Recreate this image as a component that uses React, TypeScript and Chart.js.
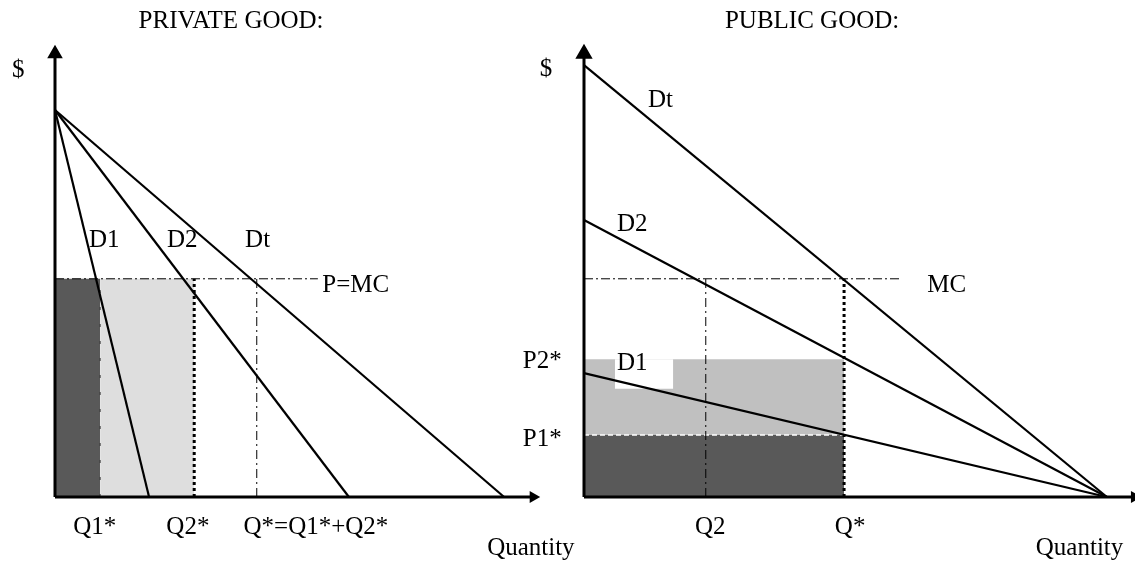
import React, { useEffect, useRef } from "react";
import { Chart, registerables } from "chart.js";

Chart.register(...registerables);

// ---------- PRIVATE GOOD (left panel) ----------
const privateTitle = "PRIVATE GOOD:";
const privateCurveNames = ["D1", "D2", "Dt"];
const privateChokePrice = 86.2; // common price intercept of D1, D2, Dt
const privateQtyIntercepts = [19.4, 60.6, 92.6]; // D1, D2, Dt on quantity axis
const privatePrice = 48.6; // P = MC
const privateMcEnd = 54.2;
const privateQuantities = [9.3, 28.7, 41.6]; // Q1*, Q2*, Q*
const privateQtyLabels = ["Q1*", "Q2*", "Q*=Q1*+Q2*"];
const privateMcLabel = "P=MC";

// ---------- PUBLIC GOOD (right panel) ----------
const publicTitle = "PUBLIC GOOD:";
const publicCurveNames = ["D1", "D2", "Dt"];
const publicPriceIntercepts = [27.6, 61.7, 96.2]; // D1, D2, Dt
const publicQtyIntercept = 94.9;
const publicMc = 48.6;
const publicMcEnd = 57.5;
const publicQuantities = [22.1, 47.2]; // Q2, Q*
const publicQtyLabels = ["Q2", "Q*"];
const publicPrices = [30.7, 13.8]; // P2*, P1*
const publicPriceLabels = ["P2*", "P1*"];
const publicMcLabel = "MC";

const axisLabels = ["$", "Quantity"];

const FONT = '25px "Liberation Serif", "Times New Roman", serif';
const DARK = "#595959";

type Pt = { x: number; y: number };
type TextItem = {
  text: string;
  x: number;
  y: number;
  align: CanvasTextAlign;
};

function makeTextPlugin(id: string, items: TextItem[]) {
  return {
    id,
    afterDraw(chart: any) {
      const { ctx, scales } = chart;
      const xs = scales.x;
      const ys = scales.y;
      ctx.save();
      ctx.font = FONT;
      ctx.fillStyle = "#000";
      ctx.textBaseline = "middle";
      for (const it of items) {
        ctx.textAlign = it.align;
        ctx.fillText(it.text, xs.getPixelForValue(it.x), ys.getPixelForValue(it.y));
      }
      ctx.restore();
    },
  };
}

function seg(data: Pt[], opts: any = {}) {
  return {
    data,
    borderColor: "#000",
    borderWidth: 1,
    pointRadius: 0,
    fill: false,
    clip: false,
    order: 5,
    ...opts,
  };
}

function rectFill(x0: number, x1: number, top: number, color: string, order: number, bottom?: number) {
  return seg(
    [
      { x: x0, y: top },
      { x: x1, y: top },
    ],
    {
      borderWidth: 0,
      borderColor: "rgba(0,0,0,0)",
      backgroundColor: color,
      fill: bottom === undefined ? "origin" : { value: bottom },
      order,
    }
  );
}

function axisSet(xEnd: number, arrowX: number, yEnd: number, rX: number, rY: number) {
  return [
    seg(
      [
        { x: 0, y: 0 },
        { x: 0, y: yEnd },
      ],
      {
        borderWidth: 3,
        pointRadius: [0, rY],
        pointStyle: "triangle",
        pointRotation: 0,
        pointBackgroundColor: "#000",
        pointBorderColor: "#000",
        order: 0,
      }
    ),
    seg(
      [
        { x: 0, y: 0 },
        { x: xEnd, y: 0 },
      ],
      { borderWidth: 3, order: 0 }
    ),
    seg([{ x: arrowX, y: 0 }], {
      borderWidth: 0,
      pointRadius: rX,
      pointStyle: "triangle",
      pointRotation: 90,
      pointBackgroundColor: "#000",
      pointBorderColor: "#000",
      order: 0,
    }),
  ];
}

function baseOptions(padding: any) {
  return {
    responsive: false,
    animation: false as const,
    events: [] as any[],
    layout: { padding, autoPadding: false },
    plugins: {
      legend: { display: false },
      tooltip: { enabled: false },
      title: { display: false },
    },
    scales: {
      x: { type: "linear" as const, min: 0, max: 100, display: false },
      y: { type: "linear" as const, min: 0, max: 100, display: false },
    },
  };
}

function privateConfig(): any {
  const [q1, q2, qt] = privateQuantities;
  const demand = privateQtyIntercepts.map((qi) =>
    seg(
      [
        { x: 0, y: privateChokePrice },
        { x: qi, y: 0 },
      ],
      { borderWidth: 2.2, order: 1 }
    )
  );
  const datasets = [
    ...axisSet(98.6, 98.6, 98.7, 7, 6),
    ...demand,
    seg(
      [
        { x: 0, y: privatePrice },
        { x: privateMcEnd, y: privatePrice },
      ],
      { borderDash: [9, 3, 2, 3], order: 3 }
    ),
    seg(
      [
        { x: q1, y: 0 },
        { x: q1, y: privatePrice },
      ],
      { borderDash: [3, 14], borderColor: "#333", order: 3 }
    ),
    seg(
      [
        { x: q2, y: 0 },
        { x: q2, y: privatePrice },
      ],
      { borderWidth: 3, borderDash: [3, 3], order: 3 }
    ),
    seg(
      [
        { x: qt, y: 0 },
        { x: qt, y: privatePrice },
      ],
      { borderDash: [9, 4, 2, 4], order: 3 }
    ),
    rectFill(0, q1, privatePrice, DARK, 9),
    rectFill(q1, q2, privatePrice, "#dedede", 10),
  ];
  const items: TextItem[] = [
    { text: privateTitle, x: 36.3, y: 106.0, align: "center" },
    { text: axisLabels[0], x: -7.6, y: 95.1, align: "center" },
    { text: privateCurveNames[0], x: 7.0, y: 57.2, align: "left" },
    { text: privateCurveNames[1], x: 23.1, y: 57.2, align: "left" },
    { text: privateCurveNames[2], x: 39.2, y: 57.2, align: "left" },
    { text: privateMcLabel, x: 55.1, y: 47.2, align: "left" },
    { text: privateQtyLabels[0], x: 8.2, y: -6.7, align: "center" },
    { text: privateQtyLabels[1], x: 27.4, y: -6.7, align: "center" },
    { text: privateQtyLabels[2], x: 53.8, y: -6.7, align: "center" },
    { text: axisLabels[1], x: 89.1, y: -11.4, align: "left" },
  ];
  return {
    type: "line",
    data: { datasets },
    options: baseOptions({ left: 55, top: 48, right: 1135 - 540, bottom: 562 - 497 }),
    plugins: [makeTextPlugin("privateText", items)],
  };
}

function publicConfig(): any {
  const [q2, qs] = publicQuantities;
  const [p2, p1] = publicPrices;
  const demand = publicPriceIntercepts.map((pi) =>
    seg(
      [
        { x: 0, y: pi },
        { x: publicQtyIntercept, y: 0 },
      ],
      { borderWidth: 2.2, order: 1 }
    )
  );
  const datasets = [
    ...axisSet(100, 99.9, 98.7, 7, 7),
    ...demand,
    seg(
      [
        { x: 0, y: publicMc },
        { x: publicMcEnd, y: publicMc },
      ],
      { borderDash: [9, 3, 2, 3], order: 3 }
    ),
    seg(
      [
        { x: q2, y: 0 },
        { x: q2, y: publicMc },
      ],
      { borderDash: [9, 4, 2, 4], order: 3 }
    ),
    seg(
      [
        { x: qs, y: 0 },
        { x: qs, y: publicMc },
      ],
      { borderWidth: 3, borderDash: [3, 3], order: 3 }
    ),
    seg(
      [
        { x: 0, y: p1 },
        { x: qs, y: p1 },
      ],
      { borderColor: "#fff", borderWidth: 1.5, borderDash: [5, 3], order: 4 }
    ),
    rectFill(5.6, 16.2, p2, "#fff", 8, 24.1),
    rectFill(0, qs, p1, DARK, 9),
    rectFill(0, qs, p2, "#c0c0c0", 10),
  ];
  const items: TextItem[] = [
    { text: publicTitle, x: 41.4, y: 106.0, align: "center" },
    { text: axisLabels[0], x: -6.9, y: 95.3, align: "center" },
    { text: publicCurveNames[2], x: 11.6, y: 88.4, align: "left" },
    { text: publicCurveNames[1], x: 6.0, y: 60.6, align: "left" },
    { text: publicCurveNames[0], x: 6.0, y: 29.8, align: "left" },
    { text: publicMcLabel, x: 62.3, y: 47.2, align: "left" },
    { text: publicPriceLabels[0], x: -11.1, y: 30.1, align: "left" },
    { text: publicPriceLabels[1], x: -11.1, y: 12.9, align: "left" },
    { text: publicQtyLabels[0], x: 22.9, y: -6.7, align: "center" },
    { text: publicQtyLabels[1], x: 48.3, y: -6.7, align: "center" },
    { text: axisLabels[1], x: 82.0, y: -11.4, align: "left" },
  ];
  return {
    type: "line",
    data: { datasets },
    options: baseOptions({ left: 584, top: 48, right: 0, bottom: 562 - 497 }),
    plugins: [makeTextPlugin("publicText", items)],
  };
}

export default function App() {
  const leftRef = useRef<HTMLCanvasElement>(null);
  const rightRef = useRef<HTMLCanvasElement>(null);

  useEffect(() => {
    const c1 = new Chart(leftRef.current as HTMLCanvasElement, privateConfig());
    const c2 = new Chart(rightRef.current as HTMLCanvasElement, publicConfig());
    return () => {
      c1.destroy();
      c2.destroy();
    };
  }, []);

  const canvasStyle: React.CSSProperties = {
    position: "absolute",
    left: 0,
    top: 0,
    width: 1135,
    height: 562,
  };

  return (
    <div
      style={{
        position: "fixed",
        left: 0,
        top: 0,
        width: 1135,
        height: 562,
        background: "#fff",
        overflow: "hidden",
      }}
    >
      <canvas ref={leftRef} width={1135} height={562} style={canvasStyle} />
      <canvas ref={rightRef} width={1135} height={562} style={canvasStyle} />
    </div>
  );
}
